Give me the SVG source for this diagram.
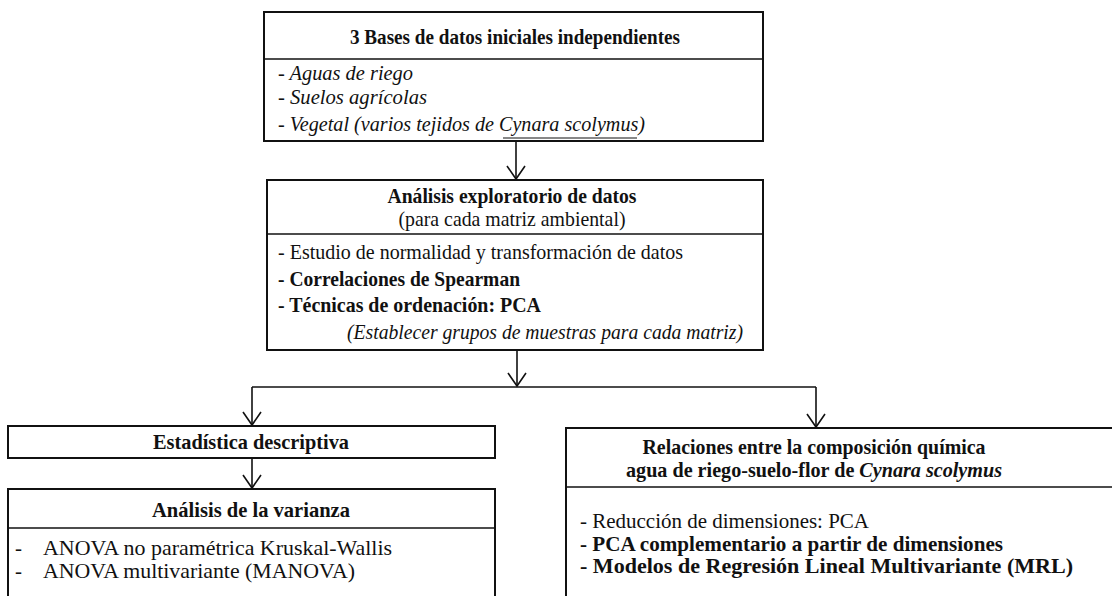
<svg xmlns="http://www.w3.org/2000/svg" width="1112" height="596" viewBox="0 0 1112 596">
<style>
text{font-family:"Liberation Serif","Times New Roman",serif;font-size:21px;fill:#111}
.b{font-weight:bold}
.i{font-style:italic}
.c{text-anchor:middle}
.box{fill:#fff;stroke:#111;stroke-width:2}
.div{stroke:#111;stroke-width:1.6}
.con{fill:none;stroke:#111;stroke-width:1.6}
</style>
<defs>
<marker id="arr" markerWidth="16" markerHeight="22" viewBox="0 0 16 22" refX="14" refY="11" orient="auto" markerUnits="userSpaceOnUse">
<path d="M1,2 L14,11 L1,20" fill="none" stroke="#111" stroke-width="1.6"/>
</marker>
</defs>
<rect width="1112" height="596" fill="#fff"/>
<g id="connectors">
<path class="con" d="M516,141 V179" marker-end="url(#arr)"/>
<path class="con" d="M517,350 V386" marker-end="url(#arr)"/>
<path class="con" d="M252,387 H816"/>
<path class="con" d="M252,387 V425" marker-end="url(#arr)"/>
<path class="con" d="M816,387 V427" marker-end="url(#arr)"/>
<path class="con" d="M252,458 V488" marker-end="url(#arr)"/>
</g>
<g id="n1">
<rect class="box" x="264" y="12" width="499" height="129"/>
<line class="div" x1="264" y1="59" x2="763" y2="59"/>
<text class="b c" x="515" y="44" textLength="330" lengthAdjust="spacingAndGlyphs">3 Bases de datos iniciales independientes</text>
<text class="i" x="278" y="80" textLength="135" lengthAdjust="spacingAndGlyphs">- Aguas de riego</text>
<text class="i" x="278" y="104" textLength="149" lengthAdjust="spacingAndGlyphs">- Suelos agrícolas</text>
<text class="i" x="278" y="131" textLength="367" lengthAdjust="spacingAndGlyphs">- Vegetal (varios tejidos de Cynara scolymus)</text>
<line stroke="#111" stroke-width="1.2" x1="503" y1="138" x2="637" y2="138"/>
</g>
<g id="n2">
<rect class="box" x="267" y="180" width="496" height="170"/>
<line class="div" x1="267" y1="234" x2="763" y2="234"/>
<text class="b c" x="512" y="203" textLength="249" lengthAdjust="spacingAndGlyphs">Análisis exploratorio de datos</text>
<text class="c" x="512" y="226" textLength="227" lengthAdjust="spacingAndGlyphs">(para cada matriz ambiental)</text>
<text x="278" y="259" textLength="405" lengthAdjust="spacingAndGlyphs">- Estudio de normalidad y transformación de datos</text>
<text class="b" x="278" y="286" textLength="242" lengthAdjust="spacingAndGlyphs">- Correlaciones de Spearman</text>
<text class="b" x="278" y="312" textLength="263" lengthAdjust="spacingAndGlyphs">- Técnicas de ordenación: PCA</text>
<text class="i" x="347" y="339" textLength="396" lengthAdjust="spacingAndGlyphs">(Establecer grupos de muestras para cada matriz)</text>
</g>
<g id="n3">
<rect class="box" x="8" y="426" width="487" height="32"/>
<text class="b c" x="251" y="449" textLength="196" lengthAdjust="spacingAndGlyphs">Estadística descriptiva</text>
</g>
<g id="n4">
<rect class="box" x="8" y="489" width="487" height="120"/>
<line class="div" x1="8" y1="528" x2="495" y2="528"/>
<text class="b c" x="251" y="517" textLength="198" lengthAdjust="spacingAndGlyphs">Análisis de la varianza</text>
<text x="15" y="555">-</text>
<text x="43" y="555" textLength="349" lengthAdjust="spacingAndGlyphs">ANOVA no paramétrica Kruskal-Wallis</text>
<text x="15" y="578">-</text>
<text x="43" y="578" textLength="312" lengthAdjust="spacingAndGlyphs">ANOVA multivariante (MANOVA)</text>
</g>
<g id="n5">
<rect class="box" x="566" y="428" width="560" height="190"/>
<line class="div" x1="566" y1="487" x2="1112" y2="487"/>
<text class="b c" x="814" y="454" textLength="343" lengthAdjust="spacingAndGlyphs">Relaciones entre la composición química</text>
<text class="b c" x="814" y="477" textLength="376" lengthAdjust="spacingAndGlyphs">agua de riego-suelo-flor de <tspan class="i">Cynara scolymus</tspan></text>
<text x="580" y="528" textLength="289" lengthAdjust="spacingAndGlyphs">- Reducción de dimensiones: PCA</text>
<text class="b" x="580" y="551" textLength="423" lengthAdjust="spacingAndGlyphs">- PCA complementario a partir de dimensiones</text>
<text class="b" x="580" y="573" textLength="493" lengthAdjust="spacingAndGlyphs">- Modelos de Regresión Lineal Multivariante (MRL)</text>
</g>
</svg>
